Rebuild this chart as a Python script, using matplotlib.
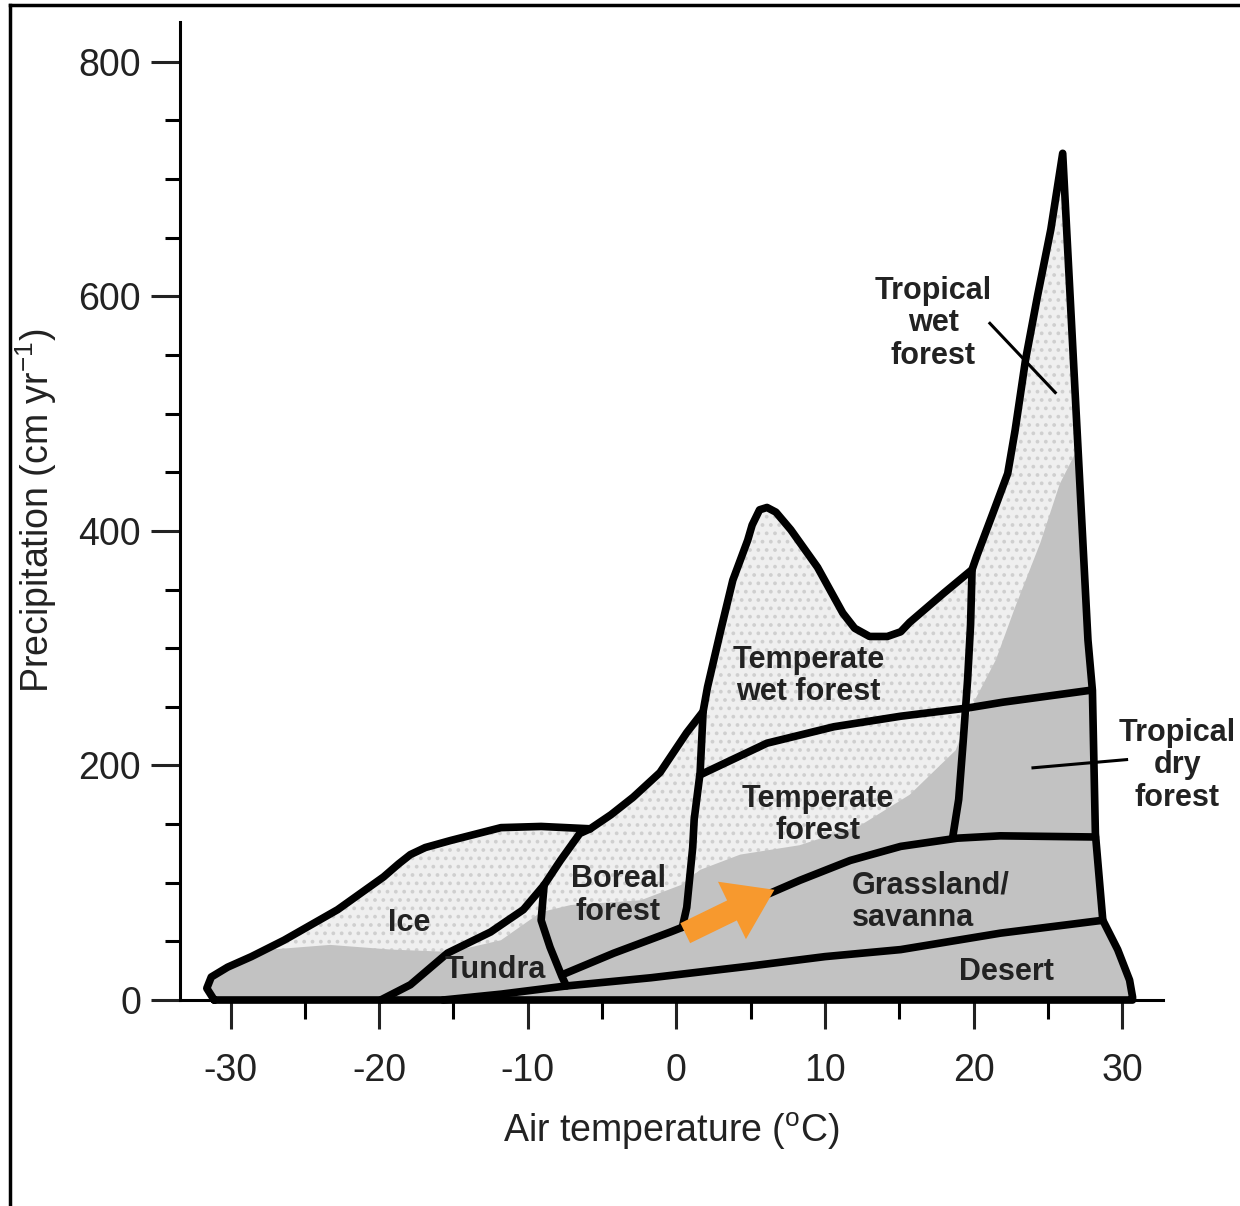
import numpy as np
import matplotlib.pyplot as plt
from matplotlib.lines import Line2D

plt.rcParams['font.family'] = ['Liberation Sans', 'DejaVu Sans']
plt.rcParams['mathtext.fontset'] = 'custom'
plt.rcParams['mathtext.rm'] = 'Liberation Sans'
plt.rcParams['mathtext.it'] = 'Liberation Sans:italic'
plt.rcParams['mathtext.bf'] = 'Liberation Sans:bold'
plt.rcParams['axes.unicode_minus'] = False
plt.rcParams['hatch.linewidth'] = 1.5

# outer limit of all biomes (air temperature in C, precipitation in cm/yr)
env_t = [-31.1, -31.6, -31.3, -30.2, -28.6, -26.4, -22.8, -19.7, -18.7, -17.9,
         -16.9, -15.2, -11.8, -9.1, -5.8, -4.4, -2.9, -1.1, 0.7, 1.8,
         2.1, 3.0, 3.8, 4.8, 5.1, 5.6, 6.1, 6.7, 7.7, 9.5,
         11.2, 12.0, 13.0, 14.2, 15.1, 15.7, 18.0, 19.9, 20.2, 21.3,
         22.3, 22.8, 23.5, 24.3, 25.2, 26.0, 27.7, 28.0, 28.2, 28.7,
         29.7, 30.5, 30.7, 30.7]
env_p = [0, 10, 19.6, 28, 37, 51, 77, 105, 116, 124,
         130, 136, 147, 148, 146, 158, 173, 194, 228, 246,
         267, 316, 358, 392, 405, 418, 420, 416, 401, 369,
         330, 317, 310, 310, 314, 322, 347, 367, 378, 415,
         449, 486, 546, 600, 657, 722, 307, 264, 142, 68,
         43, 17, 2.6, 0]

# area where the climate points are dense (solid grey)
dense_t = [-32.0, 31.2, 31.2, 27.0, 25.8, 24.5, 22.8, 21.5, 20.1, 18.8,
           15.7, 12.4, 8.3, 4.3, 1.6, 0.3, -2.4, -7.1, -9.1, -11.8,
           -15.2, -19.2, -23.3, -27.3, -32.0]
dense_p = [0, 0, 307, 470, 440, 390, 335, 290, 256, 213,
           175, 149, 132, 124, 111, 98, 85, 81, 75, 51,
           41, 43, 47, 43, 30]

# inner boundaries between biomes
ice_t = [-19.9, -17.9, -15.4, -12.5, -10.3, -8.9, -7.8, -6.5, -5.8]
ice_p = [0, 13, 40, 58, 77, 98, 119, 142, 146]

tundra_t = [-8.9, -9.1, -8.5, -7.7, -7.4]
tundra_p = [98, 68, 45, 20, 12]

desert_t = [-15.7, -11.8, -7.4, -1.7, 5.0, 10.0, 15.1, 21.8, 28.7]
desert_p = [0, 5, 12, 19, 29, 37, 43, 57, 68]

boreal_low_t = [-7.6, -4.2, -0.4, 0.4]
boreal_low_p = [22, 40, 58, 62]

boreal_right_t = [1.8, 1.6, 1.2, 1.1, 0.7, 0.4]
boreal_right_p = [246, 194, 154, 130, 79, 62]

grass_t = [0.4, 3.0, 6.3, 8.3, 11.7, 15.1, 18.9, 21.8, 28.2]
grass_p = [62, 75, 91, 102, 119, 131, 138, 140, 139]

temp_t = [1.6, 6.1, 10.6, 15.1, 19.6, 22.0, 27.8]
temp_p = [192, 219, 233, 242, 249, 254, 264]

trop_t = [19.9, 19.8, 19.6, 19.3, 19.0, 18.6]
trop_p = [367, 320, 273, 220, 171, 139]

# leader lines of the two tropical labels
wet_lead_t = [21.1, 25.5]
wet_lead_p = [577, 518]
dry_lead_t = [24.0, 30.3]
dry_lead_p = [198, 205]

labels = ['Ice', 'Tundra', 'Boreal\nforest', 'Temperate\nwet forest',
          'Temperate\nforest', 'Desert', 'Tropical\nwet\nforest',
          'Tropical\ndry\nforest']
label_t = [-18.0, -12.2, -3.9, 8.9, 9.5, 22.2, 17.3, 33.7]
label_p = [66, 26, 89, 276, 158, 24, 577, 200]

fig = plt.figure(figsize=(12.4, 12.06), dpi=100)
ax = fig.add_axes([0.1452, 0.1708, 0.7927, 0.811])

env = ax.fill(env_t, env_p, facecolor='#efefef', hatch='..', edgecolor='#cfcfcf',
              lw=0, zorder=1)[0]
dense = ax.fill(dense_t, dense_p, facecolor='#c2c2c2', edgecolor='none', zorder=2)[0]
dense.set_clip_path(env)

lw = 5.5
kw = dict(color='black', lw=lw, solid_joinstyle='round', solid_capstyle='round',
          zorder=4, clip_on=False)
ax.plot(env_t + [env_t[0]], env_p + [env_p[0]], **kw)
for t, p in [(ice_t, ice_p), (tundra_t, tundra_p), (desert_t, desert_p),
             (boreal_low_t, boreal_low_p), (boreal_right_t, boreal_right_p),
             (grass_t, grass_p), (temp_t, temp_p), (trop_t, trop_p)]:
    ax.plot(t, p, **kw)

ax.plot(wet_lead_t, wet_lead_p, color='black', lw=2.2, zorder=4)
ax.plot(dry_lead_t, dry_lead_p, color='black', lw=2.2, zorder=4, clip_on=False)

for s, t, p in zip(labels, label_t, label_p):
    ax.text(t, p, s, ha='center', va='center', fontsize=22, fontweight='bold',
            color='#222222', linespacing=1.1, zorder=5)
ax.text(11.8, 84, 'Grassland/\nsavanna', ha='left', va='center', fontsize=22,
        fontweight='bold', color='#222222', linespacing=1.1, zorder=5)

# orange arrow
ax.annotate('', xy=(6.6, 94), xytext=(0.6, 57),
            arrowprops=dict(arrowstyle='simple,head_length=1.7,head_width=2.3,tail_width=0.8',
                            color='#f7992e', lw=0, mutation_scale=20, shrinkA=0, shrinkB=0),
            zorder=6)

ax.set_xlim(-33.4, 32.75)
ax.set_ylim(0, 834)
ax.set_xticks(np.arange(-30, 31, 10))
ax.set_xticks(np.arange(-30, 31, 5), minor=True)
ax.set_yticks(np.arange(0, 801, 200))
ax.set_yticks(np.arange(0, 801, 50), minor=True)

for s in ['top', 'right']:
    ax.spines[s].set_visible(False)
for s in ['left', 'bottom']:
    ax.spines[s].set_linewidth(2.2)

ax.tick_params(axis='both', which='major', width=2.2, labelsize=27, colors='#222222')
ax.tick_params(axis='both', which='minor', width=2.2)
ax.tick_params(axis='y', which='major', length=21, pad=7)
ax.tick_params(axis='y', which='minor', length=11)
ax.tick_params(axis='x', which='major', length=21, pad=17)
ax.tick_params(axis='x', which='minor', length=14)

ax.set_xlabel('Air temperature ($^{\\mathrm{o}}$C)', fontsize=27, color='#222222', labelpad=16)
ax.set_ylabel('Precipitation (cm yr$^{\\mathrm{-1}}$)', fontsize=27, color='#222222', labelpad=14)

# frame lines at the top and the left of the picture
fig.add_artist(Line2D([0.0081, 1.0], [0.9959, 0.9959], color='black', lw=2.5))
fig.add_artist(Line2D([0.0081, 0.0081], [0.0, 0.9959], color='black', lw=2.5))

fig.savefig('out.png', dpi=100)
